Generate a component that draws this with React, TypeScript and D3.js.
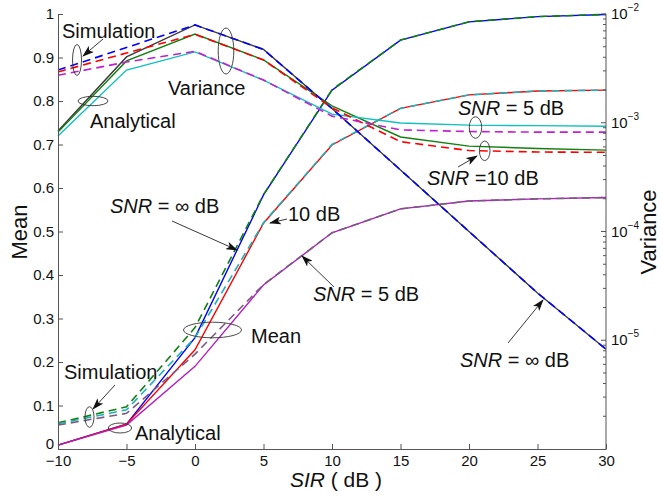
import React, { useEffect, useRef } from 'react';
import { select, scaleLinear, scaleLog, axisBottom, axisLeft, line } from 'd3';

// SIR (dB) sample points
const sir = [-10, -5, 0, 5, 10, 15, 20, 25, 30];

// Mean (left axis)
const meanAnaInf = [0.009, 0.057, 0.256, 0.584, 0.825, 0.94, 0.982, 0.994, 0.999];
const meanSimInf = [0.06, 0.097, 0.279, 0.585, 0.826, 0.94, 0.982, 0.994, 0.999];
const meanAna10 = [0.009, 0.057, 0.228, 0.519, 0.699, 0.783, 0.814, 0.823, 0.825];
const meanSim10 = [0.058, 0.09, 0.256, 0.52, 0.7, 0.783, 0.814, 0.823, 0.825];
const meanAna5 = [0.009, 0.055, 0.19, 0.377, 0.497, 0.552, 0.57, 0.575, 0.578];
const meanSim5 = [0.055, 0.082, 0.218, 0.378, 0.497, 0.552, 0.57, 0.575, 0.578];

// Variance (right axis, log)
const varAnaInf = [8.4e-4, 4.03e-3, 7.93e-3, 4.72e-3, 1.35e-3, 3.68e-4, 1.0e-4, 2.72e-5, 8.26e-6];
const varSimInf = [3.05e-3, 4.92e-3, 7.93e-3, 4.72e-3, 1.35e-3, 3.68e-4, 1.0e-4, 2.72e-5, 8.26e-6];
const varAna10 = [8.2e-4, 3.7e-3, 6.55e-3, 3.78e-3, 1.43e-3, 7.4e-4, 6.1e-4, 5.8e-4, 5.6e-4];
const varSim10 = [2.93e-3, 4.38e-3, 6.5e-3, 3.78e-3, 1.37e-3, 6.7e-4, 5.55e-4, 5.38e-4, 5.35e-4];
const varAna5 = [7.55e-4, 3.05e-3, 4.48e-3, 2.47e-3, 1.2e-3, 9.95e-4, 9.5e-4, 9.4e-4, 9.3e-4];
const varSim5 = [2.73e-3, 3.62e-3, 4.54e-3, 2.47e-3, 1.15e-3, 8.6e-4, 8.3e-4, 8.2e-4, 8.2e-4];

const sirTicks = [-10, -5, 0, 5, 10, 15, 20, 25, 30];
const meanTicks = [0, 0.1, 0.2, 0.3, 0.4, 0.5, 0.6, 0.7, 0.8, 0.9, 1];
const varTicks = [1e-5, 1e-4, 1e-3, 1e-2];
const varTickExp = ['−5', '−4', '−3', '−2'];

const FONT = 'Liberation Sans, Arial, Helvetica, sans-serif';
const AX = '#555';

const x = scaleLinear().domain([-10, 30]).range([58, 606]);
const yMean = scaleLinear().domain([0, 1]).range([449, 14]);
const yVar = scaleLog().domain([1e-6, 1e-2]).range([449, 14]);

const series = [
  { values: meanAnaInf, axis: 'mean', color: '#0000ff', dash: false },
  { values: meanAna10, axis: 'mean', color: '#ff0000', dash: false },
  { values: meanAna5, axis: 'mean', color: '#b020c0', dash: false },
  { values: varAnaInf, axis: 'var', color: '#3a3a3a', dash: false },
  { values: varAna10, axis: 'var', color: '#108010', dash: false },
  { values: varAna5, axis: 'var', color: '#10c0c0', dash: false },
  { values: meanSimInf, axis: 'mean', color: '#108010', dash: true },
  { values: meanSim10, axis: 'mean', color: '#20b0b8', dash: true },
  { values: meanSim5, axis: 'mean', color: '#7a5a80', dash: true },
  { values: varSimInf, axis: 'var', color: '#0000ff', dash: true },
  { values: varSim10, axis: 'var', color: '#ff0000', dash: true },
  { values: varSim5, axis: 'var', color: '#c020d0', dash: true },
];

const Snr = ({ x, y, rest }: { x: number; y: number; rest: string }) => (
  <text x={x} y={y} fontSize={20} fontFamily={FONT} fill="#111">
    <tspan fontStyle="italic">SNR</tspan>
    {rest}
  </text>
);

export default function App() {
  const svgRef = useRef<SVGSVGElement>(null);

  useEffect(() => {
    const svg = select(svgRef.current);

    svg
      .select('.x-axis')
      .attr('transform', 'translate(0, 449)')
      .call(axisBottom(x).tickValues(sirTicks).tickSizeInner(-5).tickSizeOuter(0).tickPadding(6) as any)
      .call((g: any) => g.select('.domain').attr('stroke', AX))
      .call((g: any) => g.selectAll('.tick line').attr('stroke', AX))
      .call((g: any) =>
        g.selectAll('.tick text').attr('fill', '#111').style('font-size', '15px').style('font-family', FONT)
      );

    svg
      .select('.y-axis')
      .attr('transform', 'translate(58, 0)')
      .call(axisLeft(yMean).tickValues(meanTicks).tickSizeInner(-5).tickSizeOuter(0).tickPadding(4).tickFormat((d: any) => String(d)) as any)
      .call((g: any) => g.select('.domain').attr('stroke', AX))
      .call((g: any) => g.selectAll('.tick line').attr('stroke', AX))
      .call((g: any) =>
        g.selectAll('.tick text').attr('fill', '#111').style('font-size', '15px').style('font-family', FONT)
      )
      // the zero label sits a touch higher so it clears the -10 below it
      .call((g: any) => g.selectAll('.tick text').filter((d: number) => d === 0).attr('dy', '-0.05em'));

    // right log axis, built by hand for minor ticks and 10^n labels
    const minor: number[] = [];
    for (let e = -6; e < -2; e++) for (let m = 2; m <= 9; m++) minor.push(m * Math.pow(10, e));
    const right = svg.select('.y-axis-right');
    right
      .selectAll('line.domain')
      .data([0])
      .join('line')
      .attr('class', 'domain')
      .attr('x1', 606)
      .attr('x2', 606)
      .attr('y1', yVar(1e-6))
      .attr('y2', yVar(1e-2))
      .attr('stroke', AX);
    right
      .selectAll('line.minor')
      .data(minor)
      .join('line')
      .attr('class', 'minor')
      .attr('x1', 606)
      .attr('x2', 603)
      .attr('y1', (d) => yVar(d))
      .attr('y2', (d) => yVar(d))
      .attr('stroke', AX);
    right
      .selectAll('line.major')
      .data(varTicks)
      .join('line')
      .attr('class', 'major')
      .attr('x1', 606)
      .attr('x2', 601)
      .attr('y1', (d) => yVar(d))
      .attr('y2', (d) => yVar(d))
      .attr('stroke', AX);
    const lbl = right
      .selectAll('text')
      .data(varTicks)
      .join('text')
      .attr('x', 611)
      .attr('y', (d) => yVar(d) + 5)
      .attr('fill', '#111')
      .style('font-family', FONT)
      .style('font-size', '15px');
    lbl.selectAll('*').remove();
    lbl.append('tspan').text('10');
    lbl
      .append('tspan')
      .attr('dy', -8)
      .style('font-size', '10px')
      .text((d, i) => varTickExp[i]);

    const lineMean = line<number>()
      .x((d, i) => x(sir[i]))
      .y((d) => yMean(d));
    const lineVar = line<number>()
      .x((d, i) => x(sir[i]))
      .y((d) => yVar(d));

    svg
      .select('.series')
      .selectAll('path')
      .data(series)
      .join('path')
      .attr('d', (s) => (s.axis === 'mean' ? lineMean(s.values) : lineVar(s.values)))
      .attr('fill', 'none')
      .attr('stroke', (s) => s.color)
      .attr('stroke-width', (s) => (s.dash ? 1.6 : 1.4))
      .attr('stroke-dasharray', (s) => (s.dash ? '8,5' : null));
  }, []);

  const arrows = [
    [103, 39, 83, 56],
    [172, 221, 237, 250],
    [287, 219, 270, 223],
    [334, 287, 302, 256],
    [115, 385, 93, 409],
    [458, 167, 477, 156],
    [508, 343, 543, 300],
  ];
  const ellipses = [
    [77, 60, 4.5, 15.5],
    [93, 101, 15, 4.7],
    [226, 51, 7.8, 23],
    [475.5, 127.5, 6.2, 10.8],
    [484.7, 150.8, 5.3, 9.8],
    [212.5, 330, 29, 7.8],
    [89.5, 417, 4.5, 10.3],
    [120, 428, 11.7, 5],
  ];

  return (
    <svg
      ref={svgRef}
      width={662}
      height={501}
      style={{ position: 'absolute', left: 0, top: 0, background: '#fff' }}
    >
      <defs>
        <marker id="ah" markerUnits="userSpaceOnUse" markerWidth={12} markerHeight={8} refX={11} refY={4} orient="auto">
          <path d="M0,0 L12,4 L0,8 L3,4 Z" fill="#111" />
        </marker>
      </defs>
      <rect x={0} y={0} width={662} height={501} fill="#fff" />
      <g className="series" />
      <g className="x-axis" />
      <g className="y-axis" />
      <g className="y-axis-right" />

      {ellipses.map(([cx, cy, rx, ry], i) => (
        <ellipse key={i} cx={cx} cy={cy} rx={rx} ry={ry} fill="none" stroke="#333" strokeWidth={0.9} />
      ))}
      {arrows.map(([x1, y1, x2, y2], i) => (
        <line key={i} x1={x1} y1={y1} x2={x2} y2={y2} stroke="#222" strokeWidth={0.9} markerEnd="url(#ah)" />
      ))}

      <g fontFamily={FONT} fontSize={20} fill="#111">
        <text x={62} y={38}>Simulation</text>
        <text x={90} y={128}>Analytical</text>
        <text x={168} y={95}>Variance</text>
        <text x={251} y={343}>Mean</text>
        <text x={64} y={379}>Simulation</text>
        <text x={135} y={440}>Analytical</text>
        <text x={288} y={221}>10 dB</text>
      </g>
      <Snr x={458} y={115} rest=" = 5 dB" />
      <Snr x={427} y={185} rest=" =10 dB" />
      <Snr x={110} y={213} rest=" = ∞ dB" />
      <Snr x={313} y={301} rest=" = 5 dB" />
      <Snr x={460} y={367} rest=" = ∞ dB" />

      <text
        transform="translate(27, 232) rotate(-90)"
        textAnchor="middle"
        fontFamily={FONT}
        fontSize={22}
        fill="#111"
      >
        Mean
      </text>
      <text
        transform="translate(656, 232) rotate(-90)"
        textAnchor="middle"
        fontFamily={FONT}
        fontSize={22}
        fill="#111"
      >
        Variance
      </text>
      <text x={336} y={487} textAnchor="middle" fontFamily={FONT} fontSize={21} fill="#111">
        <tspan fontStyle="italic">SIR</tspan>
        {' ( dB )'}
      </text>
    </svg>
  );
}
